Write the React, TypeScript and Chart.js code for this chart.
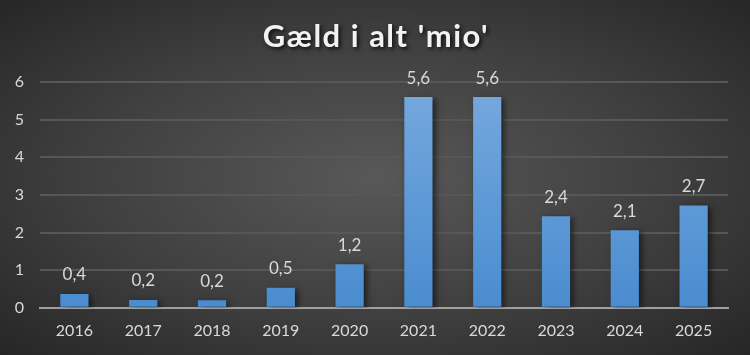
import React, { useEffect, useRef } from "react";
import { Chart, registerables } from "chart.js";

Chart.register(...registerables);

const categories = ["2016", "2017", "2018", "2019", "2020", "2021", "2022", "2023", "2024", "2025"];
const debt = [0.37, 0.21, 0.2, 0.53, 1.16, 5.6, 5.6, 2.43, 2.06, 2.72];
const valueLabels = ["0,4", "0,2", "0,2", "0,5", "1,2", "5,6", "5,6", "2,4", "2,1", "2,7"];
const titleText = "Gæld i alt 'mio'";

const FONT = "Lato, 'Open Sans', sans-serif";

const barShadow = {
  id: "barShadow",
  beforeDatasetsDraw(chart: any) {
    const ctx = chart.ctx;
    ctx.save();
    ctx.shadowColor = "rgba(0,0,0,0.55)";
    ctx.shadowBlur = 6;
    ctx.shadowOffsetX = 3;
    ctx.shadowOffsetY = 2;
  },
  afterDatasetsDraw(chart: any) {
    chart.ctx.restore();
  },
};

const dataLabels = {
  id: "dataLabels",
  afterDatasetsDraw(chart: any) {
    const ctx = chart.ctx;
    const meta = chart.getDatasetMeta(0);
    ctx.save();
    ctx.fillStyle = "#d9d9d9";
    ctx.font = `17px ${FONT}`;
    ctx.textAlign = "center";
    ctx.textBaseline = "middle";
    meta.data.forEach((bar: any, i: number) => {
      ctx.fillText(valueLabels[i], bar.x, bar.y - 19);
    });
    ctx.restore();
  },
};

const titleDraw = {
  id: "titleDraw",
  afterDraw(chart: any) {
    const ctx = chart.ctx;
    ctx.save();
    ctx.font = `bold 31px ${FONT}`;
    (ctx as any).letterSpacing = "1.5px";
    ctx.fillStyle = "#f2f2f2";
    ctx.textAlign = "center";
    ctx.textBaseline = "middle";
    ctx.shadowColor = "rgba(0,0,0,0.8)";
    ctx.shadowBlur = 4;
    ctx.shadowOffsetX = 2;
    ctx.shadowOffsetY = 2;
    ctx.fillText(titleText, chart.width / 2 + 1, 37);
    ctx.restore();
  },
};

export default function App() {
  const ref = useRef<HTMLCanvasElement>(null);
  useEffect(() => {
    if (!ref.current) return;
    const chart = new Chart(ref.current, {
      type: "bar",
      data: {
        labels: categories,
        datasets: [
          {
            data: debt,
            backgroundColor: (c: any) => {
              const area = c.chart.chartArea;
              if (!area) return "#5b9bd5";
              const g = c.chart.ctx.createLinearGradient(0, area.top, 0, area.bottom);
              g.addColorStop(0, "#76a9de");
              g.addColorStop(1, "#4a8cd0");
              return g;
            },
            borderWidth: 0,
            barPercentage: 0.41,
            categoryPercentage: 1,
          },
        ],
      },
      options: {
        animation: false,
        responsive: false,
        maintainAspectRatio: false,
        layout: { padding: { left: 13, right: 22, top: 82, bottom: 2 } },
        plugins: {
          legend: { display: false },
          tooltip: { enabled: false },
          title: { display: false },
        },
        scales: {
          x: {
            grid: { display: false, drawTicks: false },
            border: { display: true, color: "#a0a0a0", width: 2 },
            ticks: { color: "#d9d9d9", font: { family: FONT, size: 16 }, padding: 13 },
          },
          y: {
            min: 0,
            max: 6,
            afterFit: (s: any) => {
              s.width = 27;
            },
            ticks: { stepSize: 1, color: "#d9d9d9", font: { family: FONT, size: 16 }, padding: 16 },
            grid: { color: "#575757", lineWidth: 2, drawTicks: false },
            border: { display: false },
          },
        },
      },
      plugins: [barShadow, dataLabels, titleDraw],
    });
    return () => chart.destroy();
  }, []);
  return (
    <div
      style={{
        position: "fixed",
        left: 0,
        top: 0,
        width: 750,
        height: 355,
        background: "radial-gradient(ellipse at center, #585858 0%, #3f3f3f 55%, #262626 100%)",
      }}
    >
      <canvas ref={ref} width={750} height={355} />
    </div>
  );
}
